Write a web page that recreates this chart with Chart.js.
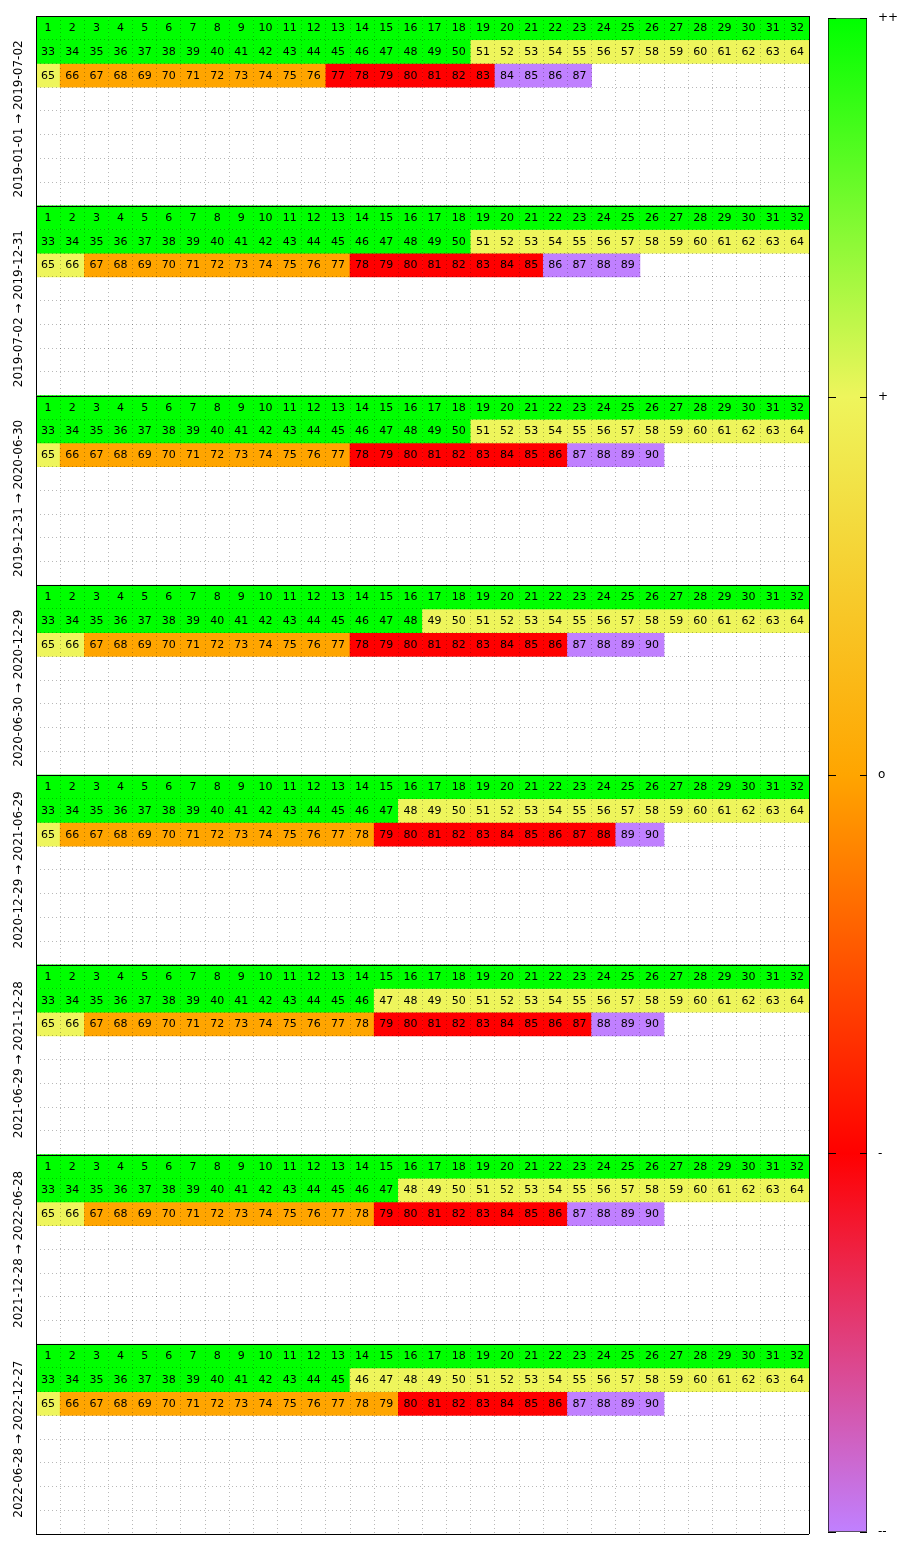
<!DOCTYPE html>
<html><head><meta charset="utf-8">
<script src="https://cdn.jsdelivr.net/npm/chart.js@4.4.1/dist/chart.umd.min.js"></script>
<style>
html,body{margin:0;padding:0;background:#fff;}
#wrap{position:relative;width:900px;height:1550px;}
canvas{position:absolute;left:0;top:0;}
</style></head><body>
<div id="wrap"><canvas id="grid" width="900" height="1550"></canvas><canvas id="bar" width="900" height="1550"></canvas></div>
<script>
// ---- data ----
const periods = [
  '2019-01-01 → 2019-07-02',
  '2019-07-02 → 2019-12-31',
  '2019-12-31 → 2020-06-30',
  '2020-06-30 → 2020-12-29',
  '2020-12-29 → 2021-06-29',
  '2021-06-29 → 2021-12-28',
  '2021-12-28 → 2022-06-28',
  '2022-06-28 → 2022-12-27'
];
const levelNames  = ['--', '-', 'o', '+', '++'];
const levelColors = ['#C080FF', '#FF0000', '#FFA500', '#EEF55C', '#00FF00'];
// last day (within each period) belonging to each level
const lastDayPlusPlus   = [50, 50, 50, 48, 47, 46, 47, 45];
const lastDayPlus       = [65, 66, 65, 66, 65, 66, 66, 65];
const lastDayZero       = [76, 77, 77, 77, 78, 78, 78, 79];
const lastDayMinus      = [83, 85, 86, 86, 88, 87, 86, 86];
const lastDayMinusMinus = [87, 89, 90, 90, 90, 90, 90, 90];
const columnLabels = Array.from({length: 32}, (_, i) => String(i + 1));
const ROWS_PER_PANEL = 8;

function levelOfDay(p, day) {
  if (day <= lastDayPlusPlus[p]) return 4;
  if (day <= lastDayPlus[p]) return 3;
  if (day <= lastDayZero[p]) return 2;
  if (day <= lastDayMinus[p]) return 1;
  if (day <= lastDayMinusMinus[p]) return 0;
  return null;
}

const datasets = [];
periods.forEach((label, p) => {
  const nCols = columnLabels.length;
  const rowsUsed = Math.ceil(lastDayMinusMinus[p] / nCols);
  for (let r = 0; r < rowsUsed; r++) {
    const row = p * ROWS_PER_PANEL + r;
    const data = [], colors = [], days = [];
    columnLabels.forEach((_, c) => {
      const day = r * nCols + c + 1;
      const lvl = levelOfDay(p, day);
      if (lvl === null) { data.push(null); colors.push('rgba(0,0,0,0)'); days.push(null); }
      else { data.push([row, row + 1]); colors.push(levelColors[lvl]); days.push(day); }
    });
    datasets.push({data, backgroundColor: colors, days, borderWidth: 0,
      grouped: false, barPercentage: 1, categoryPercentage: 1});
  }
});

const FONT = '"DejaVu Sans", "Liberation Sans", sans-serif';
const GRID_DOT = 'rgba(0,0,0,0.28)';

const crisp = (v) => Math.round(v) + 0.5;

const panelFrames = {
  id: 'panelFrames',
  afterDraw(chart) {
    const ctx = chart.ctx, a = chart.chartArea, y = chart.scales.y;
    ctx.save();
    ctx.strokeStyle = '#000';
    ctx.lineWidth = 1;
    ctx.setLineDash([]);
    ctx.beginPath();
    for (let p = 0; p <= periods.length; p++) {
      const py = crisp(y.getPixelForValue(p * ROWS_PER_PANEL));
      ctx.moveTo(a.left, py); ctx.lineTo(a.right, py);
    }
    ctx.moveTo(crisp(a.left), a.top); ctx.lineTo(crisp(a.left), a.bottom);
    ctx.moveTo(crisp(a.right), a.top); ctx.lineTo(crisp(a.right), a.bottom);
    ctx.stroke();
    ctx.restore();
  }
};

const cellText = {
  id: 'cellText',
  afterDraw(chart) {
    const ctx = chart.ctx;
    ctx.save();
    ctx.fillStyle = '#000';
    ctx.textAlign = 'center';
    ctx.textBaseline = 'middle';
    ctx.font = '11px ' + FONT;
    chart.data.datasets.forEach((ds, i) => {
      const meta = chart.getDatasetMeta(i);
      meta.data.forEach((el, j) => {
        if (ds.days[j] == null) return;
        const c = el.getCenterPoint();
        ctx.fillText(String(ds.days[j]), c.x, c.y + 0.5);
      });
    });
    const y = chart.scales.y;
    ctx.font = '12px ' + FONT;
    periods.forEach((label, p) => {
      const yc = (y.getPixelForValue(p * ROWS_PER_PANEL) + y.getPixelForValue((p + 1) * ROWS_PER_PANEL)) / 2
        + (p < 4 ? 8 : 0);
      ctx.save();
      ctx.translate(chart.chartArea.left - 17, yc);
      ctx.rotate(-Math.PI / 2);
      ctx.fillText(label, 0, 0);
      ctx.restore();
    });
    ctx.restore();
  }
};

const nRows = periods.length * ROWS_PER_PANEL;

new Chart(document.getElementById('grid'), {
  type: 'bar',
  data: {labels: columnLabels, datasets},
  options: {
    responsive: false,
    animation: false,
    layout: {padding: {left: 36, top: 16, right: 91, bottom: 16}},
    plugins: {legend: {display: false}, tooltip: {enabled: false}},
    scales: {
      x: {
        ticks: {display: false},
        grid: {offset: true, z: 1, drawTicks: false, lineWidth: 1, color: GRID_DOT},
        border: {display: false, dash: [1, 3]}
      },
      y: {
        type: 'linear', reverse: true, min: 0, max: nRows,
        ticks: {display: false, stepSize: 1},
        grid: {z: 1, drawTicks: false, lineWidth: 1, color: GRID_DOT},
        border: {display: false, dash: [1, 3]}
      }
    }
  },
  plugins: [panelFrames, cellText]
});

// ---- colour bar ----
const colorbarTicks = {
  id: 'colorbarTicks',
  afterDatasetsDraw(chart) {
    const ctx = chart.ctx, a = chart.chartArea, y = chart.scales.y;
    ctx.save();
    ctx.strokeStyle = '#000';
    ctx.lineWidth = 1;
    ctx.beginPath();
    levelNames.forEach((_, v) => {
      const py = crisp(y.getPixelForValue(v));
      ctx.moveTo(a.left, py); ctx.lineTo(a.left + 8, py);
      ctx.moveTo(a.right - 7, py); ctx.lineTo(a.right, py);
    });
    ctx.stroke();
    ctx.restore();
  }
};

function paletteGradient(c) {
  const chart = c.chart;
  const a = chart.chartArea;
  const y = chart.scales && chart.scales.y;
  if (!a || !y) return levelColors[2];
  const y0 = y.getPixelForValue(0), y1 = y.getPixelForValue(levelNames.length - 1);
  if (!isFinite(y0) || !isFinite(y1) || y0 === y1) return levelColors[2];
  const g = chart.ctx.createLinearGradient(0, y0, 0, y1);
  levelColors.forEach((col, i) => g.addColorStop(i / (levelColors.length - 1), col));
  return g;
}

new Chart(document.getElementById('bar'), {
  type: 'bar',
  data: {
    labels: ['palette'],
    datasets: [{
      data: [[0, levelNames.length - 1]],
      backgroundColor: paletteGradient,
      borderColor: '#000', borderWidth: 1, borderSkipped: false,
      barPercentage: 1, categoryPercentage: 1
    }]
  },
  options: {
    responsive: false,
    animation: false,
    layout: {padding: {left: 828, top: 16, right: 0, bottom: 16}},
    plugins: {legend: {display: false}, tooltip: {enabled: false}},
    scales: {
      x: {display: false},
      y: {
        position: 'right', min: 0, max: levelNames.length - 1,
        ticks: {stepSize: 1, padding: 11, color: '#000', font: {family: FONT, size: 12},
          callback: (v) => levelNames[v]},
        grid: {display: false, drawTicks: false},
        border: {display: false},
        afterFit: (s) => { s.width = 33; }
      }
    }
  },
  plugins: [colorbarTicks]
});
</script></body></html>
